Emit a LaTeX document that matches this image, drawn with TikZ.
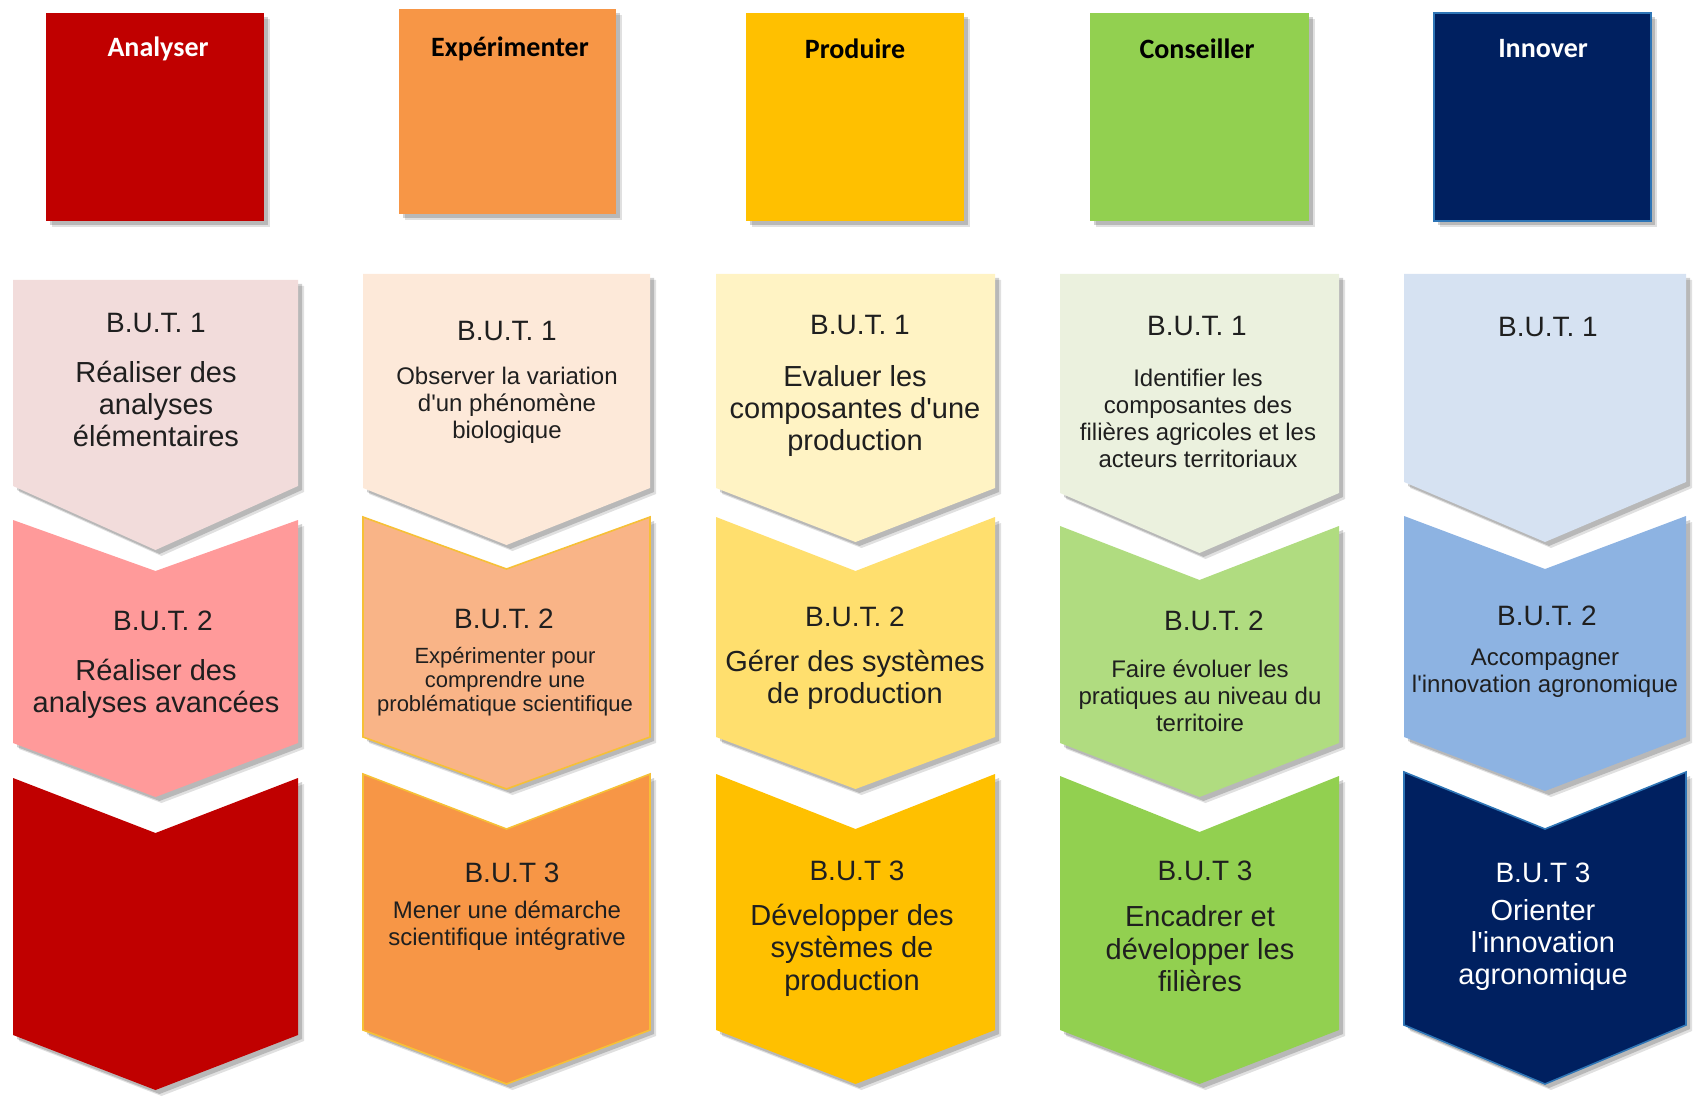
\documentclass[tikz,border=0pt]{standalone}
\usepackage{fontspec}
\setmainfont{Liberation Sans}
\newfontfamily\titlefont{Carlito}[Scale=1]
\usetikzlibrary{shadows}
\definecolor{anaA}{HTML}{C00000}
\definecolor{expA}{HTML}{F79646}
\definecolor{proA}{HTML}{FFC000}
\definecolor{conA}{HTML}{92D050}
\definecolor{innA}{HTML}{002060}
\definecolor{anaOne}{HTML}{F2DCDB}
\definecolor{anaTwo}{HTML}{FF9A9A}
\definecolor{expOne}{HTML}{FDE9D9}
\definecolor{expTwo}{HTML}{F9B487}
\definecolor{proOne}{HTML}{FFF3C4}
\definecolor{proTwo}{HTML}{FFDF6E}
\definecolor{conOne}{HTML}{EBF1DE}
\definecolor{conTwo}{HTML}{B0DC80}
\definecolor{innOne}{HTML}{D6E2F2}
\definecolor{innTwo}{HTML}{8DB3E2}
\definecolor{innEdge}{HTML}{2E75B6}
\definecolor{expEdge}{HTML}{F6C036}
\newcommand{\chevshape}[8]{%
  % #1 color, #2 xl, #3 xr, #4 ytop, #5 notch, #6 ybot, #7 tip, #8 extra options
  \path[fill=#1,shadowed,#8] (#2,#4) -- ({(#2+#3)/2},#5) -- (#3,#4) -- (#3,#6) -- ({(#2+#3)/2},#7) -- (#2,#6) -- cycle;}
\tikzset{
  shadowed/.style={
    drop shadow={shadow xshift=3pt,shadow yshift=-3pt,opacity=0.12,fill=black},
    drop shadow={shadow xshift=2pt,shadow yshift=-2pt,opacity=0.18,fill=black}},
  topbox/.style={shadowed},
  titletext/.style={font=\titlefont\bfseries\fontsize{14}{16}\selectfont,anchor=center,inner sep=0pt},
  butlabel/.style={font=\fontsize{14}{16}\selectfont,anchor=center,inner sep=0pt,text=black!88},
  bigtext/.style={font=\fontsize{14.5}{16.2}\selectfont,align=center,anchor=center,inner sep=0pt,text=black!88},
  midtext/.style={font=\fontsize{12}{13.5}\selectfont,align=center,anchor=center,inner sep=0pt,text=black!88},
  smalltext/.style={font=\fontsize{11}{12}\selectfont,align=center,anchor=center,inner sep=0pt,text=black!88},
}
\begin{document}
\begin{tikzpicture}[x=0.5pt,y=-0.5pt]
\useasboundingbox (0,0) rectangle (1700,1096);
% top boxes
\path[fill=anaA,topbox] (46,13) rectangle (264,221);
\path[fill=expA,topbox] (399,9) rectangle (616,214);
\path[fill=proA,topbox] (746,13) rectangle (964,221);
\path[fill=conA,topbox] (1090,13) rectangle (1309,221);
\path[fill=innA,draw=innEdge,line width=1pt,topbox] (1434,13) rectangle (1651,221);
\node[titletext,text=white] (tana) at (158,49) {Analyser};
\node[titletext,text=black] (texp) at (510,49) {Expérimenter};
\node[titletext,text=black] (tpro) at (855,49) {Produire};
\node[titletext,text=black] (tcon) at (1197,49) {Conseiller};
\node[titletext,text=white] (tinn) at (1543,49) {Innover};
% column 1
\chevshape{anaOne}{13}{298}{280}{280}{486}{550}{}
\chevshape{anaTwo}{13}{298}{520}{571}{743}{797}{}
\chevshape{anaA}{13}{298}{778}{833}{1035}{1090}{}
% column 2
\chevshape{expOne}{363}{650}{274}{274}{488}{545}{}
\chevshape{expTwo}{363}{650}{517}{569}{737}{789}{draw=expEdge,line width=0.8pt}
\chevshape{expA}{363}{650}{774}{829}{1030}{1084}{draw=expEdge,line width=0.8pt}
% column 3
\chevshape{proOne}{716}{995}{274}{274}{488}{542}{}
\chevshape{proTwo}{716}{995}{517}{571}{737}{789}{}
\chevshape{proA}{716}{995}{774}{829}{1030}{1084}{}
% column 4
\chevshape{conOne}{1060}{1339}{274}{274}{493}{553}{}
\chevshape{conTwo}{1060}{1339}{526}{580}{743}{797}{}
\chevshape{conA}{1060}{1339}{776}{832}{1030}{1084}{}
% column 5
\chevshape{innOne}{1404}{1686}{274}{274}{482}{542}{}
\chevshape{innTwo}{1404}{1686}{516}{569}{737}{791}{}
\chevshape{innA}{1404}{1686}{772}{829}{1025}{1084}{draw=innEdge,line width=0.8pt}
% texts column 1
\node[butlabel] (a1) at (156,323) {B.U.T. 1};
\node[bigtext] (a1d) at (156,404) {Réaliser des\\analyses\\élémentaires};
\node[butlabel] (a2) at (163,621) {B.U.T. 2};
\node[bigtext] (a2d) at (156,689) {Réaliser des\\analyses avancées};
% column 2
\node[butlabel] (e1) at (507,331) {B.U.T. 1};
\node[midtext] (e1d) at (507,405) {Observer la variation\\d\textquotesingle un phénomène\\biologique};
\node[butlabel] (e2) at (504,619) {B.U.T. 2};
\node[smalltext] (e2d) at (505,682) {Expérimenter pour\\comprendre une\\problématique scientifique};
\node[butlabel] (e3) at (512,873) {B.U.T 3};
\node[midtext] (e3d) at (507,926) {Mener une démarche\\scientifique intégrative};
% column 3
\node[butlabel] (p1) at (860,325) {B.U.T. 1};
\node[bigtext] (p1d) at (855,411) {Evaluer les\\composantes d\textquotesingle une\\production};
\node[butlabel] (p2) at (855,617) {B.U.T. 2};
\node[bigtext] (p2d) at (855,680) {Gérer des systèmes\\de production};
\node[butlabel] (p3) at (857,871) {B.U.T 3};
\node[bigtext] (p3d) at (852,950) {Développer des\\systèmes de\\production};
% column 4
\node[butlabel] (c1) at (1197,326) {B.U.T. 1};
\node[midtext] (c1d) at (1198,418) {Identifier les\\composantes des\\filières agricoles et les\\acteurs territoriaux};
\node[butlabel] (c2) at (1214,621) {B.U.T. 2};
\node[midtext] (c2d) at (1200,696) {Faire évoluer les\\pratiques au niveau du\\territoire};
\node[butlabel] (c3) at (1205,871) {B.U.T 3};
\node[bigtext] (c3d) at (1200,949) {Encadrer et\\développer les\\filières};
% column 5
\node[butlabel] (i1) at (1548,327) {B.U.T. 1};
\node[butlabel] (i2) at (1547,616) {B.U.T. 2};
\node[midtext] (i2d) at (1545,673) {Accompagner\\l\textquotesingle innovation agronomique};
\node[butlabel,text=white] (i3) at (1543,873) {B.U.T 3};
\node[bigtext,text=white] (i3d) at (1543,945) {Orienter\\l\textquotesingle innovation\\agronomique};
\end{tikzpicture}
\end{document}
